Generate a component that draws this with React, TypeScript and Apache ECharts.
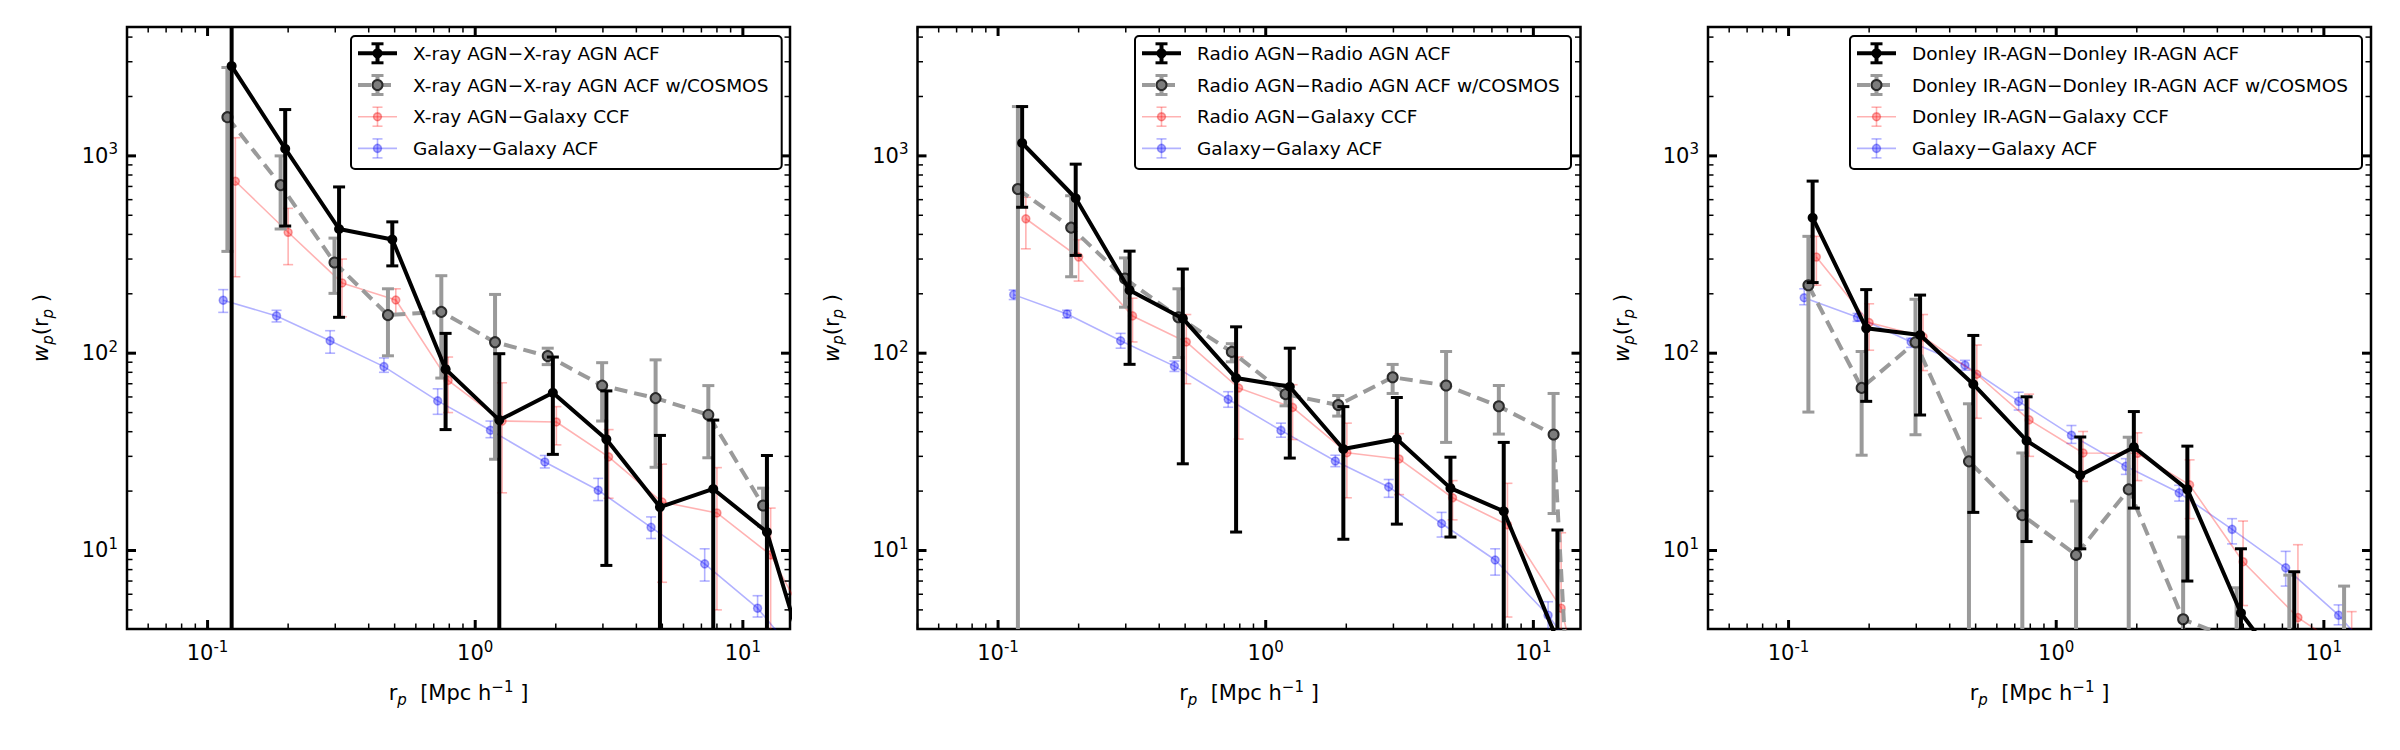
import React, { useEffect, useRef } from 'react';
import * as echarts from 'echarts';

const FONT = 'DejaVu Sans';

// ---- bin centres (Mpc/h) for each sample (small offsets as in the figure) ----
const X_BLACK = [0.123, 0.195, 0.31, 0.49, 0.775, 1.23, 1.95, 3.09, 4.9, 7.75, 12.3, 19.5];
const X_GRAY = [0.1186, 0.1875, 0.298, 0.472, 0.747, 1.186, 1.866, 2.98, 4.72, 7.43, 11.9, 18.8];
const X_RED = [0.127, 0.2, 0.318, 0.505, 0.792, 1.26, 2.01, 3.15, 4.99, 8.0, 12.7, 20.1];
const X_BLUE = [0.1144, 0.181, 0.287, 0.456, 0.724, 1.14, 1.82, 2.88, 4.54, 7.2, 11.35, 18.0];

// ---- panel 1: X-ray AGN ----
const XR_ACF = [2852, 1087, 426, 377, 83, 45.8, 63, 36.6, 16.6, 20.5, 12.4, 1.56];
const XR_ACF_HI = [8000, 1717, 696, 463, 126, 99.4, 95.6, 64.4, 38.3, 45.8, 30.3, null];
const XR_ACF_LO = [0, 441, 152, 277, 41, 0, 30.7, 8.4, 0, 0, 0, null];
const XR_COS = [1571, 711, 288, 156, 162, 113.7, 96.7, 68.5, 59.2, 48.7, 16.9];
const XR_COS_HI = [2805, 1000, 383, 212, 247, 198.5, 106, 89.5, 92.5, 68.5, 20.7];
const XR_COS_LO = [328, 426, 201, 97, 74.8, 29, 87.5, 45.3, 26.4, 29.5, 13.3];
const XR_CCF = [744, 410, 227, 186, 72.8, 45.3, 44.8, 29.8, 17.6, 15.5, 9.5, 3.0];
const XR_CCF_HI = [1236, 542, 300, 212, 95.6, 70.8, 53.6, 41, 27.4, 26.3, 16.4, null];
const XR_CCF_LO = [244, 281, 153, 156, 50, 19.6, 34.3, 18.4, 6.9, 5.0, 0, null];
const XR_GAL = [185.6, 154.5, 115.6, 85.5, 57.3, 40.7, 28.1, 20.2, 13.1, 8.55, 5.1, 2.4];
const XR_GAL_HI = [210, 165, 130, 94.6, 66, 45.3, 30.3, 23.2, 14.8, 10.2, 5.9, null];
const XR_GAL_LO = [161, 144, 100, 80, 49, 37.3, 26.2, 17.9, 11.5, 7.0, 4.6, null];

// ---- panel 2: Radio AGN ----
const RA_ACF = [1162, 610, 208.6, 150, 74.8, 67.6, 32.7, 36.7, 20.7, 15.8, 3.5];
const RA_ACF_HI = [1778, 908, 329, 267, 136, 106, 53.6, 59.6, 29.7, 35.3, 12.7];
const RA_ACF_LO = [549, 313, 87.8, 27.5, 12.4, 29.4, 11.4, 13.6, 11.7, 0, 0];
const RA_COS = [679, 433, 239, 152, 101.5, 62, 54.6, 75.5, 68.6, 53.8, 38.7, 0.0005];
const RA_COS_HI = [1778, 628, 304, 212, 111.7, 69.2, 61, 87.7, 102, 68.6, 62.5, null];
const RA_COS_LO = [0, 244, 171, 95, 90.4, 54.1, 48, 62.5, 35.3, 38.9, 15.4, null];
const RA_CCF = [480, 307, 154.5, 114, 66.6, 53.1, 31.3, 29.1, 18.5, 13.5, 5.1, 0.4];
const RA_CCF_HI = [617, 376, 190, 157, 95.7, 69.2, 44.2, 39.1, 22.6, 21.9, 12.3, null];
const RA_CCF_LO = [338, 232, 114, 70, 36.7, 36.5, 18.5, 19.2, 14.3, 4.6, 0, null];
const RA_GAL = [198, 158, 115.6, 86, 58.4, 40.6, 28.4, 21, 13.7, 8.95, 4.7, 2.0];
const RA_GAL_HI = [209, 165, 126, 91.2, 63.8, 44.2, 30.4, 22.9, 15.6, 10.2, 5.5, null];
const RA_GAL_LO = [187, 151, 106, 80.8, 53.2, 37.5, 26.6, 18.6, 11.7, 7.5, 3.9, null];

// ---- panel 3: Donley IR-AGN ----
const IR_ACF = [486, 133.7, 123.6, 69.6, 36, 24.1, 33.4, 20.4, 4.82, 2.1];
const IR_ACF_HI = [745, 210, 197, 123, 60.1, 37.6, 50.6, 33.8, 10.2, 7.8];
const IR_ACF_LO = [228, 57, 48.6, 15.6, 11.1, 10.2, 16.4, 7.0, 0, 0];
const IR_COS = [221, 66.7, 113.5, 28.3, 15.1, 9.5, 20.4, 4.48, 3.5, 2.5, 3.0];
const IR_COS_HI = [391, 102, 187.6, 55.4, 31.2, 17.8, 37.5, 11.7, 6.47, 7.5, 6.6];
const IR_COS_LO = [50.3, 30.4, 38.6, 0, 0, 0, 0, 0, 0, 0, 0];
const IR_CCF = [307, 143, 121, 78.2, 45.9, 31.2, 31.1, 21.5, 8.77, 4.57, 3.0];
const IR_CCF_HI = [391, 178, 157, 110, 62, 40.1, 39.5, 28.8, 14.1, 10.7, 4.9];
const IR_CCF_LO = [221, 103.5, 81.6, 46.8, 30, 22.4, 22.6, 14.5, 5.26, 0, 0];
const IR_GAL = [191, 152, 114, 86.9, 57, 38.4, 26.7, 19.6, 12.8, 8.17, 4.7, 2.3];
const IR_GAL_HI = [212, 159, 119, 92, 63.4, 43, 29.2, 21.4, 14.5, 9.9, 5.3, null];
const IR_GAL_LO = [176, 145, 107, 82, 51.5, 34.9, 24.3, 17.8, 10.8, 6.6, 4.2, null];

// ---- legend labels ----
const LABELS_XR = ['X-ray AGN−X-ray AGN ACF', 'X-ray AGN−X-ray AGN ACF w/COSMOS', 'X-ray AGN−Galaxy CCF', 'Galaxy−Galaxy ACF'];
const LABELS_RA = ['Radio AGN−Radio AGN ACF', 'Radio AGN−Radio AGN ACF w/COSMOS', 'Radio AGN−Galaxy CCF', 'Galaxy−Galaxy ACF'];
const LABELS_IR = ['Donley IR-AGN−Donley IR-AGN ACF', 'Donley IR-AGN−Donley IR-AGN ACF w/COSMOS', 'Donley IR-AGN−Galaxy CCF', 'Galaxy−Galaxy ACF'];

// ---- axes ----
const X_MIN = 0.05;
const X_MAX = 15;
const Y_MIN = 4;
const Y_MAX = 4500;
const X_DECADES = [0.01, 0.1, 1, 10];
const Y_DECADES = [1, 10, 100, 1000];

type Sty = {
  line: string; lw: number; dash?: number[]; fill: string; border: string; bw: number;
  size: number; err: string; elw: number; cap: number; clw: number; z: number;
};
const STY: Record<string, Sty> = {
  black: { line: '#000000', lw: 4, fill: '#000000', border: '#000000', bw: 0, size: 10, err: '#000000', elw: 4, cap: 12, clw: 3, z: 8 },
  gray: { line: '#9a9a9a', lw: 4, dash: [13, 7], fill: '#7c7c7c', border: '#2b2b2b', bw: 2, size: 10, err: '#9a9a9a', elw: 4, cap: 12, clw: 3, z: 6 },
  red: { line: 'rgba(255,0,0,0.3)', lw: 1.6, fill: 'rgba(255,0,0,0.32)', border: 'rgba(230,0,0,0.35)', bw: 1.5, size: 8, err: 'rgba(255,0,0,0.3)', elw: 1.6, cap: 10, clw: 1.6, z: 4 },
  blue: { line: 'rgba(0,0,255,0.3)', lw: 1.6, fill: 'rgba(0,0,255,0.32)', border: 'rgba(0,0,230,0.35)', bw: 1.5, size: 8, err: 'rgba(0,0,255,0.3)', elw: 1.6, cap: 10, clw: 1.6, z: 2 },
};
const KEYS = ['black', 'gray', 'red', 'blue'];

const PANELS = [
  {
    left: 127, legLeft: 351, legRight: 781.7, labels: LABELS_XR,
    sets: {
      black: [X_BLACK, XR_ACF, XR_ACF_LO, XR_ACF_HI], gray: [X_GRAY, XR_COS, XR_COS_LO, XR_COS_HI],
      red: [X_RED, XR_CCF, XR_CCF_LO, XR_CCF_HI], blue: [X_BLUE, XR_GAL, XR_GAL_LO, XR_GAL_HI],
    },
  },
  {
    left: 917.5, legLeft: 1135, legRight: 1571, labels: LABELS_RA,
    sets: {
      black: [X_BLACK, RA_ACF, RA_ACF_LO, RA_ACF_HI], gray: [X_GRAY, RA_COS, RA_COS_LO, RA_COS_HI],
      red: [X_RED, RA_CCF, RA_CCF_LO, RA_CCF_HI], blue: [X_BLUE, RA_GAL, RA_GAL_LO, RA_GAL_HI],
    },
  },
  {
    left: 1708, legLeft: 1850, legRight: 2362, labels: LABELS_IR,
    sets: {
      black: [X_BLACK, IR_ACF, IR_ACF_LO, IR_ACF_HI], gray: [X_GRAY, IR_COS, IR_COS_LO, IR_COS_HI],
      red: [X_RED, IR_CCF, IR_CCF_LO, IR_CCF_HI], blue: [X_BLUE, IR_GAL, IR_GAL_LO, IR_GAL_HI],
    },
  },
];
const GRID_TOP = 27;
const GRID_W = 663;
const GRID_H = 602;

function points(xs: number[], ys: (number | null)[]) {
  const out: number[][] = [];
  ys.forEach((y, i) => { if (y != null) out.push([xs[i], y]); });
  return out;
}
function errs(xs: number[], lo: (number | null)[], hi: (number | null)[]) {
  const out: number[][] = [];
  hi.forEach((h, i) => {
    const l = lo[i];
    if (h != null && l != null) out.push([xs[i], l > 0 ? l : 1e-6, h]);
  });
  return out;
}

function minorTicks(decades: number[], min: number, max: number) {
  const out: number[][] = [];
  decades.forEach((d) => {
    if (d >= min * 0.999 && d <= max * 1.001) out.push([d, 1]);
    for (let m = 2; m <= 9; m++) {
      const v = d * m;
      if (v >= min * 0.999 && v <= max * 1.001) out.push([v, 0]);
    }
  });
  return out;
}

function errRender(s: Sty) {
  return (params: any, api: any) => {
    const cs = params.coordSys;
    const x = api.value(0), lo = api.value(1), hi = api.value(2);
    const pHi = api.coord([x, hi]);
    const pLo = api.coord([x, lo]);
    const px = pHi[0];
    const top = cs.y, bottom = cs.y + cs.height;
    const y1 = Math.max(top, pHi[1]);
    const y2 = Math.min(bottom, pLo[1]);
    const children: any[] = [];
    if (y2 > y1) {
      children.push({ type: 'line', shape: { x1: px, y1, x2: px, y2 }, style: { stroke: s.err, lineWidth: s.elw } });
    }
    const hw = s.cap / 2;
    if (pHi[1] >= top && pHi[1] <= bottom) {
      children.push({ type: 'line', shape: { x1: px - hw, y1: pHi[1], x2: px + hw, y2: pHi[1] }, style: { stroke: s.err, lineWidth: s.clw } });
    }
    if (pLo[1] <= bottom && pLo[1] >= top) {
      children.push({ type: 'line', shape: { x1: px - hw, y1: pLo[1], x2: px + hw, y2: pLo[1] }, style: { stroke: s.err, lineWidth: s.clw } });
    }
    return { type: 'group', children };
  };
}

function xTickRender(params: any, api: any) {
  const cs = params.coordSys;
  const x = api.coord([api.value(0), 10])[0];
  const major = api.value(2) === 1;
  const len = major ? 9 : 5.5;
  const lw = major ? 3 : 1.5;
  const b = cs.y + cs.height;
  return {
    type: 'group',
    children: [
      { type: 'line', shape: { x1: x, y1: b, x2: x, y2: b - len }, style: { stroke: '#000', lineWidth: lw } },
      { type: 'line', shape: { x1: x, y1: cs.y, x2: x, y2: cs.y + len }, style: { stroke: '#000', lineWidth: lw } },
    ],
  };
}
function yTickRender(params: any, api: any) {
  const cs = params.coordSys;
  const y = api.coord([1, api.value(1)])[1];
  const major = api.value(2) === 1;
  const len = major ? 9 : 5.5;
  const lw = major ? 3 : 1.5;
  const r = cs.x + cs.width;
  return {
    type: 'group',
    children: [
      { type: 'line', shape: { x1: cs.x, y1: y, x2: cs.x + len, y2: y }, style: { stroke: '#000', lineWidth: lw } },
      { type: 'line', shape: { x1: r, y1: y, x2: r - len, y2: y }, style: { stroke: '#000', lineWidth: lw } },
    ],
  };
}

function legendEls(left: number, right: number, labels: string[]) {
  const top = 36, h = 133;
  const els: any[] = [
    { type: 'rect', shape: { x: left, y: top, width: right - left, height: h, r: 4 }, style: { fill: '#fff', stroke: '#000', lineWidth: 2 }, z: 100 },
  ];
  KEYS.forEach((k, i) => {
    const s = STY[k];
    const cy = top + 17.3 + 31.7 * i;
    const cx = left + 26.5;
    els.push({ type: 'line', shape: { x1: left + 7, y1: cy, x2: left + 46, y2: cy }, style: { stroke: s.line, lineWidth: s.lw, lineDash: s.dash }, z: 101 });
    els.push({ type: 'line', shape: { x1: cx, y1: cy - 9.5, x2: cx, y2: cy + 9.5 }, style: { stroke: s.err, lineWidth: s.elw }, z: 101 });
    els.push({ type: 'line', shape: { x1: cx - s.cap / 2, y1: cy - 9.5, x2: cx + s.cap / 2, y2: cy - 9.5 }, style: { stroke: s.err, lineWidth: s.clw }, z: 101 });
    els.push({ type: 'line', shape: { x1: cx - s.cap / 2, y1: cy + 9.5, x2: cx + s.cap / 2, y2: cy + 9.5 }, style: { stroke: s.err, lineWidth: s.clw }, z: 101 });
    els.push({ type: 'circle', shape: { cx, cy, r: s.size / 2 }, style: { fill: s.fill, stroke: s.bw ? s.border : null, lineWidth: s.bw }, z: 102 });
    els.push({ type: 'text', style: { text: labels[i], x: left + 62, y: cy, fill: '#000', fontSize: 18.5, fontFamily: FONT, verticalAlign: 'middle', align: 'left' }, z: 103 });
  });
  return els;
}

function tickLabel(v: number) {
  const l = Math.log10(v);
  const r = Math.round(l);
  if (Math.abs(l - r) > 1e-6) return '';
  return `{b|10}{s|${r}}`;
}
const LABEL_RICH = {
  b: { fontSize: 21, fontFamily: FONT, lineHeight: 28, color: '#000' },
  s: { fontSize: 15, fontFamily: FONT, lineHeight: 18, verticalAlign: 'top', color: '#000' },
};

function buildOption() {
  const grid: any[] = [], xAxis: any[] = [], yAxis: any[] = [], series: any[] = [];
  let graphic: any[] = [];
  PANELS.forEach((p, pi) => {
    grid.push({ left: p.left, top: GRID_TOP, width: GRID_W, height: GRID_H, show: true, borderColor: '#000', borderWidth: 2.5, backgroundColor: 'rgba(0,0,0,0)' });
    xAxis.push({
      type: 'log', logBase: 10, gridIndex: pi, min: X_MIN, max: X_MAX,
      axisLine: { show: false }, axisTick: { show: false }, splitLine: { show: false },
      axisLabel: { formatter: tickLabel, rich: LABEL_RICH, margin: 10, showMinLabel: false, showMaxLabel: false },
      name: '{n|r}{sub|p}{n|  [Mpc h}{sup|−1}{n| ]}', nameLocation: 'middle', nameGap: 50,
      nameTextStyle: {
        rich: {
          n: { fontSize: 21, fontFamily: FONT, lineHeight: 28, color: '#000' },
          sub: { fontSize: 15, fontFamily: FONT, fontStyle: 'italic', lineHeight: 15, verticalAlign: 'bottom', color: '#000' },
          sup: { fontSize: 15, fontFamily: FONT, lineHeight: 18, verticalAlign: 'top', color: '#000' },
        },
      },
    });
    yAxis.push({
      type: 'log', logBase: 10, gridIndex: pi, min: Y_MIN, max: Y_MAX,
      axisLine: { show: false }, axisTick: { show: false }, splitLine: { show: false },
      axisLabel: { formatter: tickLabel, rich: LABEL_RICH, margin: 9, showMinLabel: false, showMaxLabel: false },
      name: '{w|w}{sub|p}{n|(r}{sub|p}{n| )}', nameLocation: 'middle', nameGap: 72, nameRotate: 90,
      nameTextStyle: {
        rich: {
          w: { fontSize: 21, fontFamily: FONT, fontStyle: 'italic', lineHeight: 28, color: '#000' },
          n: { fontSize: 21, fontFamily: FONT, lineHeight: 28, color: '#000' },
          sub: { fontSize: 15, fontFamily: FONT, fontStyle: 'italic', lineHeight: 15, verticalAlign: 'bottom', color: '#000' },
        },
      },
    });
    ['blue', 'red', 'gray', 'black'].forEach((k) => {
      const s = STY[k];
      const set = (p.sets as any)[k];
      series.push({
        type: 'custom', xAxisIndex: pi, yAxisIndex: pi, silent: true, z: s.z,
        data: errs(set[0], set[2], set[3]), encode: { x: 0, y: 2 }, renderItem: errRender(s),
      });
      series.push({
        type: 'line', xAxisIndex: pi, yAxisIndex: pi, silent: true, z: s.z + 1,
        data: points(set[0], set[1]), symbol: 'circle', symbolSize: s.size, showAllSymbol: true,
        lineStyle: { color: s.line, width: s.lw, type: s.dash ? s.dash : 'solid' },
        itemStyle: { color: s.fill, borderColor: s.bw ? s.border : s.fill, borderWidth: s.bw },
        emphasis: { disabled: true },
      });
    });
    series.push({
      type: 'custom', xAxisIndex: pi, yAxisIndex: pi, silent: true, z: 20,
      data: minorTicks(X_DECADES, X_MIN, X_MAX).map((t) => [t[0], 10, t[1]]), encode: { x: 0, y: 1 }, renderItem: xTickRender,
    });
    series.push({
      type: 'custom', xAxisIndex: pi, yAxisIndex: pi, silent: true, z: 20,
      data: minorTicks(Y_DECADES, Y_MIN, Y_MAX).map((t) => [1, t[0], t[1]]), encode: { x: 0, y: 1 }, renderItem: yTickRender,
    });
    graphic = graphic.concat(legendEls(p.legLeft, p.legRight, p.labels));
  });
  return {
    animation: false,
    backgroundColor: '#ffffff',
    textStyle: { fontFamily: FONT },
    grid, xAxis, yAxis, series,
    graphic: { elements: graphic },
  };
}

export default function App() {
  const ref = useRef<HTMLDivElement>(null);
  useEffect(() => {
    if (!ref.current) return;
    const chart = echarts.init(ref.current, undefined, { renderer: 'svg' });
    chart.setOption(buildOption() as any);
    return () => chart.dispose();
  }, []);
  return <div ref={ref} style={{ position: 'fixed', left: 0, top: 0, width: 2400, height: 750, background: '#fff' }} />;
}
